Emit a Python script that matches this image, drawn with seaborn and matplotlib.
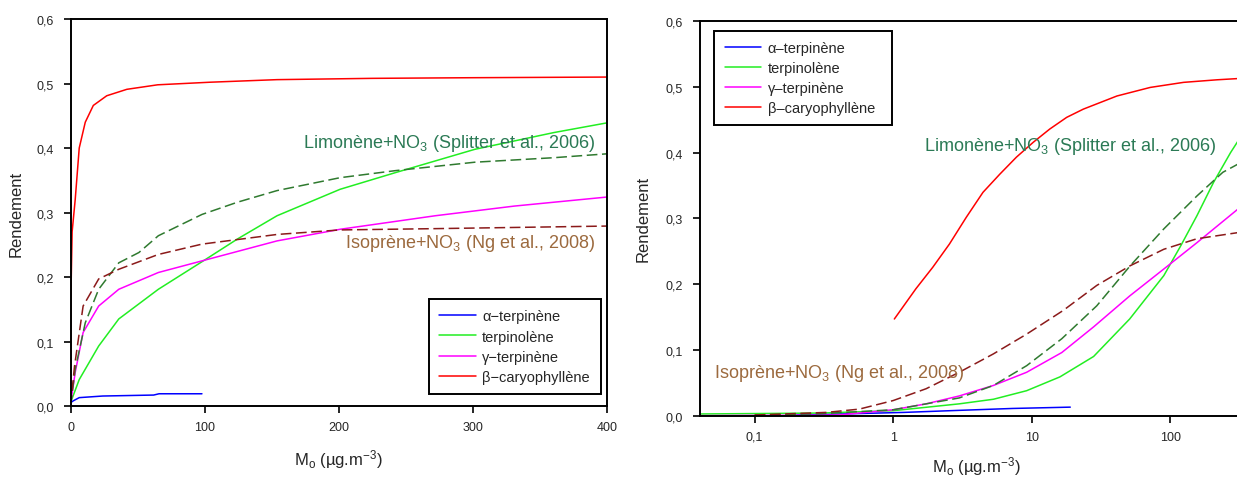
import numpy as np
import pandas as pd
import matplotlib
matplotlib.use("Agg")
import matplotlib.pyplot as plt
import seaborn as sns

# ---- data ----
# left panel (linear Mo axis)
lin_alpha_x = [0, 2, 6.5, 24, 62, 66, 98]
lin_alpha_y = [0.005, 0.008, 0.013, 0.0155, 0.017, 0.019, 0.019]
lin_terpino_x = [0, 6.5, 21, 36, 65.5, 99, 124.5, 154, 201, 242.5, 301.5, 360.5, 400]
lin_terpino_y = [0.005, 0.041, 0.093, 0.135, 0.181, 0.225, 0.259, 0.295, 0.336, 0.362, 0.398, 0.424, 0.439]
lin_gamma_x = [0, 3.5, 9.4, 21, 36, 65.5, 98, 154, 201, 272, 331, 400]
lin_gamma_y = [0.003, 0.052, 0.114, 0.155, 0.181, 0.207, 0.225, 0.256, 0.274, 0.295, 0.310, 0.324]
lin_beta_x = [0, 0.3, 1.2, 3.5, 6.5, 11, 17, 27, 42, 65, 104, 154, 225, 300, 400]
lin_beta_y = [0, 0.17, 0.27, 0.32, 0.40, 0.44, 0.466, 0.481, 0.491, 0.498, 0.502, 0.506, 0.508, 0.509, 0.510]
lin_limo_x = [0, 3.5, 11, 21, 36, 51, 65.5, 98, 124.5, 154, 201, 242.5, 301.5, 360.5, 400]
lin_limo_y = [0, 0.057, 0.129, 0.181, 0.222, 0.238, 0.264, 0.297, 0.316, 0.334, 0.354, 0.365, 0.378, 0.385, 0.391]
lin_iso_x = [0, 3, 9.4, 21, 36, 65.5, 98, 154, 201, 272, 400]
lin_iso_y = [0, 0.062, 0.155, 0.197, 0.212, 0.235, 0.251, 0.266, 0.273, 0.275, 0.279]

# right panel (log Mo axis)
log_alpha_x = [0.2, 0.5, 1.2, 2.9, 7.3, 19]
log_alpha_y = [0.001, 0.003, 0.005, 0.008, 0.011, 0.013]
log_terpino_x = [0.04, 0.3, 1, 3, 5.3, 9.2, 16, 28, 51, 90, 119, 156, 206, 273, 330, 400]
log_terpino_y = [0.0026, 0.004, 0.0076, 0.018, 0.025, 0.038, 0.059, 0.09, 0.147, 0.213, 0.258, 0.304, 0.355, 0.40, 0.427, 0.44]
log_gamma_x = [0.04, 0.4, 1, 1.73, 3, 5.3, 9.2, 16.5, 28, 51, 90, 156, 325, 400]
log_gamma_y = [0, 0.001, 0.009, 0.018, 0.030, 0.046, 0.066, 0.096, 0.135, 0.182, 0.223, 0.263, 0.318, 0.33]
log_beta_x = [1.02, 1.46, 1.93, 2.55, 3.37, 4.45, 5.88, 7.76, 10.25, 13.5, 17.9, 23.6,
              41.3, 71.8, 125, 218, 328, 400]
log_beta_y = [0.147, 0.193, 0.2255, 0.261, 0.3015, 0.3395, 0.367, 0.393, 0.4155, 0.4357,
              0.4535, 0.466, 0.486, 0.499, 0.5067, 0.5106, 0.5128, 0.513]
log_limo_x = [0.1, 0.3, 1, 3, 5.3, 9.2, 16.5, 29.5, 51.5, 90, 156, 240, 325, 400]
log_limo_y = [0.001, 0.003, 0.009, 0.027, 0.046, 0.076, 0.117, 0.167, 0.228, 0.284, 0.334, 0.37, 0.385, 0.392]
log_iso_x = [0.1, 0.33, 0.57, 1, 1.73, 3, 5.3, 9.2, 16.9, 29.5, 51.5, 90, 156, 325, 400]
log_iso_y = [0.001, 0.005, 0.010, 0.023, 0.041, 0.066, 0.094, 0.124, 0.16, 0.198, 0.228, 0.253, 0.269, 0.279, 0.28]

left_labels = ["α−terpinène", "terpinolène", "γ−terpinène", "β−caryophyllène"]
right_labels = ["α–terpinène", "terpinolène", "γ–terpinène", "β–caryophyllène"]
solid_colors = ["#0000ff", "#22ee22", "#ff00ff", "#ff0000"]
dash_colors = ["#2f7a2f", "#8b1a1a"]
y_ticks = [0.0, 0.1, 0.2, 0.3, 0.4, 0.5, 0.6]
y_ticklabels = ["0,0", "0,1", "0,2", "0,3", "0,4", "0,5", "0,6"]

sns.set_style("ticks")
plt.rcParams["font.family"] = ["Liberation Sans", "DejaVu Sans"]
plt.rcParams["mathtext.fontset"] = "custom"
plt.rcParams["mathtext.rm"] = "Liberation Sans"
plt.rcParams["mathtext.it"] = "Liberation Sans:italic"

fig = plt.figure(figsize=(12.37, 4.81), dpi=100)
ax1 = fig.add_axes([0.0570, 0.1538, 0.4337, 0.8046])
ax2 = fig.add_axes([0.5655, 0.1337, 0.4479, 0.8206])

xlabel = "M$_\\mathrm{o}$ (µg.m$^\\mathrm{-3}$)"
limo_txt = "Limonène+NO$_\\mathrm{3}$ (Splitter et al., 2006)"
iso_txt = "Isoprène+NO$_\\mathrm{3}$ (Ng et al., 2008)"
limo_col = "#2b7a55"
iso_col = "#9c6a3e"


def draw(ax, solids, dashed, labels):
    handles = []
    for (x, y), lab, c in zip(solids, labels, solid_colors):
        df = pd.DataFrame({"x": x, "y": y})
        sns.lineplot(data=df, x="x", y="y", ax=ax, color=c, lw=1.1,
                     estimator=None, sort=False, label=lab, legend=False)
        handles.append(ax.get_lines()[-1])
    for (x, y), c in zip(dashed, dash_colors):
        df = pd.DataFrame({"x": x, "y": y})
        sns.lineplot(data=df, x="x", y="y", ax=ax, color=c, lw=1.1,
                     estimator=None, sort=False, legend=False,
                     linestyle=(0, (7, 3)))
    ax.set_ylim(0, 0.6)
    ax.set_yticks(y_ticks)
    ax.set_yticklabels(y_ticklabels)
    ax.set_ylabel("Rendement", fontsize=12)
    ax.set_xlabel(xlabel, fontsize=12)
    for s in ax.spines.values():
        s.set_linewidth(1.4)
        s.set_color("black")
    ax.tick_params(axis="both", which="major", length=5, width=1.2,
                   labelsize=9, color="black")
    ax.tick_params(axis="x", pad=6)
    ax.tick_params(axis="y", pad=7)
    return handles


# left panel
h1 = draw(ax1,
          [(lin_alpha_x, lin_alpha_y), (lin_terpino_x, lin_terpino_y),
           (lin_gamma_x, lin_gamma_y), (lin_beta_x, lin_beta_y)],
          [(lin_limo_x, lin_limo_y), (lin_iso_x, lin_iso_y)],
          left_labels)
ax1.set_xlim(0, 400)
ax1.set_xticks([0, 100, 200, 300, 400])
ax1.set_xticklabels(["0", "100", "200", "300", "400"])
ax1.yaxis.set_label_coords(-0.088, 0.5)
ax1.xaxis.set_label_coords(0.5, -0.106)
ax1.text(391, 0.409, limo_txt, color=limo_col, fontsize=13, ha="right", va="center")
ax1.text(391, 0.254, iso_txt, color=iso_col, fontsize=13, ha="right", va="center")
leg1 = ax1.legend(handles=h1, labels=left_labels, loc="lower left",
                  bbox_to_anchor=(0.668, 0.031, 0.321, 0.245), mode="expand",
                  fontsize=10.5, handlelength=2.5, handletextpad=0.45,
                  labelspacing=0.42, borderpad=0.7, borderaxespad=0,
                  fancybox=False, framealpha=1, edgecolor="black")
leg1.get_frame().set_linewidth(1.4)

# right panel
ax2.set_xscale("log")
h2 = draw(ax2,
          [(log_alpha_x, log_alpha_y), (log_terpino_x, log_terpino_y),
           (log_gamma_x, log_gamma_y), (log_beta_x, log_beta_y)],
          [(log_limo_x, log_limo_y), (log_iso_x, log_iso_y)],
          right_labels)
ax2.set_xlim(0.04, 400)
ax2.set_xticks([0.1, 1, 10, 100])
ax2.set_xticklabels(["0,1", "1", "10", "100"])
ax2.minorticks_off()
ax2.yaxis.set_label_coords(-0.0875, 0.5)
ax2.xaxis.set_label_coords(0.5, -0.098)
ax2.text(214, 0.411, limo_txt, color=limo_col, fontsize=13, ha="right", va="center")
ax2.text(0.0506, 0.066, iso_txt, color=iso_col, fontsize=13, ha="left", va="center")
leg2 = ax2.legend(handles=h2, labels=right_labels, loc="upper left",
                  bbox_to_anchor=(0.027, 0.726, 0.3195, 0.2495), mode="expand",
                  fontsize=10.5, handlelength=2.5, handletextpad=0.45,
                  labelspacing=0.42, borderpad=0.7, borderaxespad=0,
                  fancybox=False, framealpha=1, edgecolor="black")
leg2.get_frame().set_linewidth(1.4)

fig.savefig("out.png", dpi=100)
